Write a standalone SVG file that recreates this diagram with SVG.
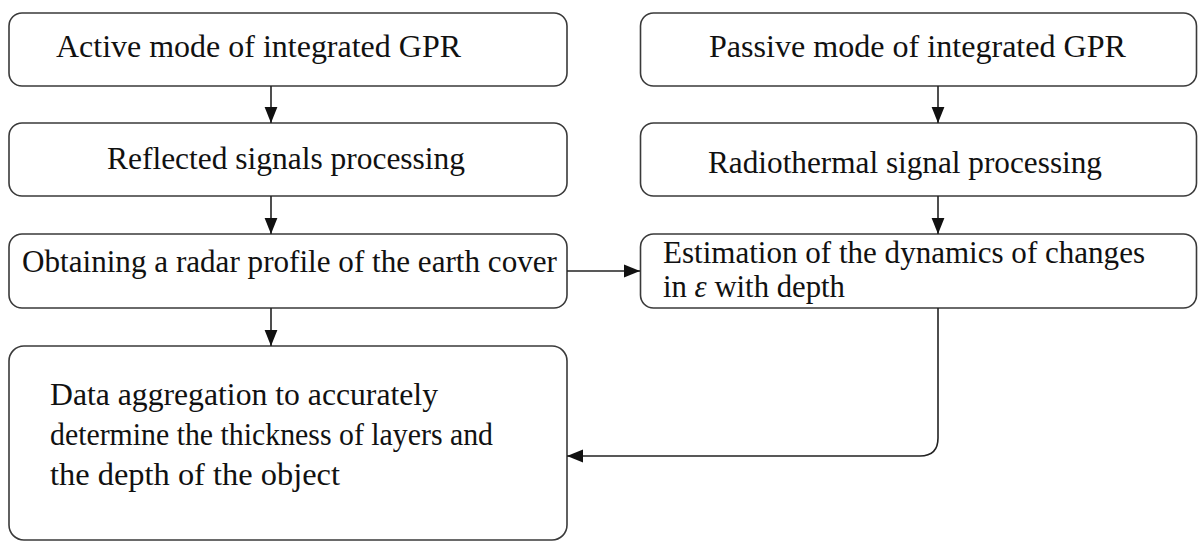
<svg xmlns="http://www.w3.org/2000/svg" width="1198" height="542" viewBox="0 0 1198 542">
<style>
.box{fill:#fff;stroke:#3a3a3a;stroke-width:1.6}
.t{font-family:'Liberation Serif',LiberationSerif,'DejaVu Serif',DejaVuSerif,'Times New Roman',Times,Tinos,'Noto Serif',FreeSerif,Georgia,serif;font-size:31px;fill:#111}
.c{fill:none;stroke:#222;stroke-width:1.6}
</style>
<defs>
<marker id="ah" markerUnits="userSpaceOnUse" markerWidth="16" markerHeight="14" viewBox="0 0 15 12" refX="15" refY="6" orient="auto">
<path d="M0,0 L15,6 L0,12 Z" fill="#111"/>
</marker>
</defs>
<rect width="1198" height="542" fill="#fff"/>
<g id="n1"><rect class="box" x="9" y="13" width="558" height="73" rx="13"/><text class="t" x="56" y="57" textLength="405" lengthAdjust="spacingAndGlyphs">Active mode of integrated GPR</text></g>
<g id="n2"><rect class="box" x="9" y="123" width="558" height="73" rx="13"/><text class="t" x="107" y="169" textLength="358" lengthAdjust="spacingAndGlyphs">Reflected signals processing</text></g>
<g id="n3"><rect class="box" x="9" y="234" width="558" height="74" rx="13"/><text class="t" x="22" y="272" textLength="535" lengthAdjust="spacingAndGlyphs">Obtaining a radar profile of the earth cover</text></g>
<g id="n4"><rect class="box" x="640.5" y="13" width="556" height="73" rx="13"/><text class="t" x="709" y="57" textLength="417" lengthAdjust="spacingAndGlyphs">Passive mode of integrated GPR</text></g>
<g id="n5"><rect class="box" x="640.5" y="123" width="556" height="73" rx="13"/><text class="t" x="708" y="173" textLength="394" lengthAdjust="spacingAndGlyphs">Radiothermal signal processing</text></g>
<g id="n6"><rect class="box" x="640.5" y="234" width="556" height="74" rx="13"/><text class="t" x="663" y="263" textLength="482" lengthAdjust="spacingAndGlyphs">Estimation of the dynamics of changes</text><text class="t" x="663" y="297" textLength="182" lengthAdjust="spacingAndGlyphs">in <tspan font-style="italic">ε</tspan> with depth</text></g>
<g id="n7"><rect class="box" x="9" y="346" width="558" height="194" rx="15"/><text class="t" x="50" y="405" textLength="388" lengthAdjust="spacingAndGlyphs">Data aggregation to accurately</text><text class="t" x="50" y="445" textLength="443" lengthAdjust="spacingAndGlyphs">determine the thickness of layers and</text><text class="t" x="50" y="485" textLength="290" lengthAdjust="spacingAndGlyphs">the depth of the object</text></g>
<g id="connectors">
<path class="c" d="M271,86 V123" marker-end="url(#ah)"/>
<path class="c" d="M271,196 V234" marker-end="url(#ah)"/>
<path class="c" d="M271,308 V346" marker-end="url(#ah)"/>
<path class="c" d="M938,86 V123" marker-end="url(#ah)"/>
<path class="c" d="M938,196 V234" marker-end="url(#ah)"/>
<path class="c" d="M567,271 H640" marker-end="url(#ah)"/>
<path class="c" d="M938,308 V438 Q938,456 920,456 H567" marker-end="url(#ah)"/>
</g>
</svg>
